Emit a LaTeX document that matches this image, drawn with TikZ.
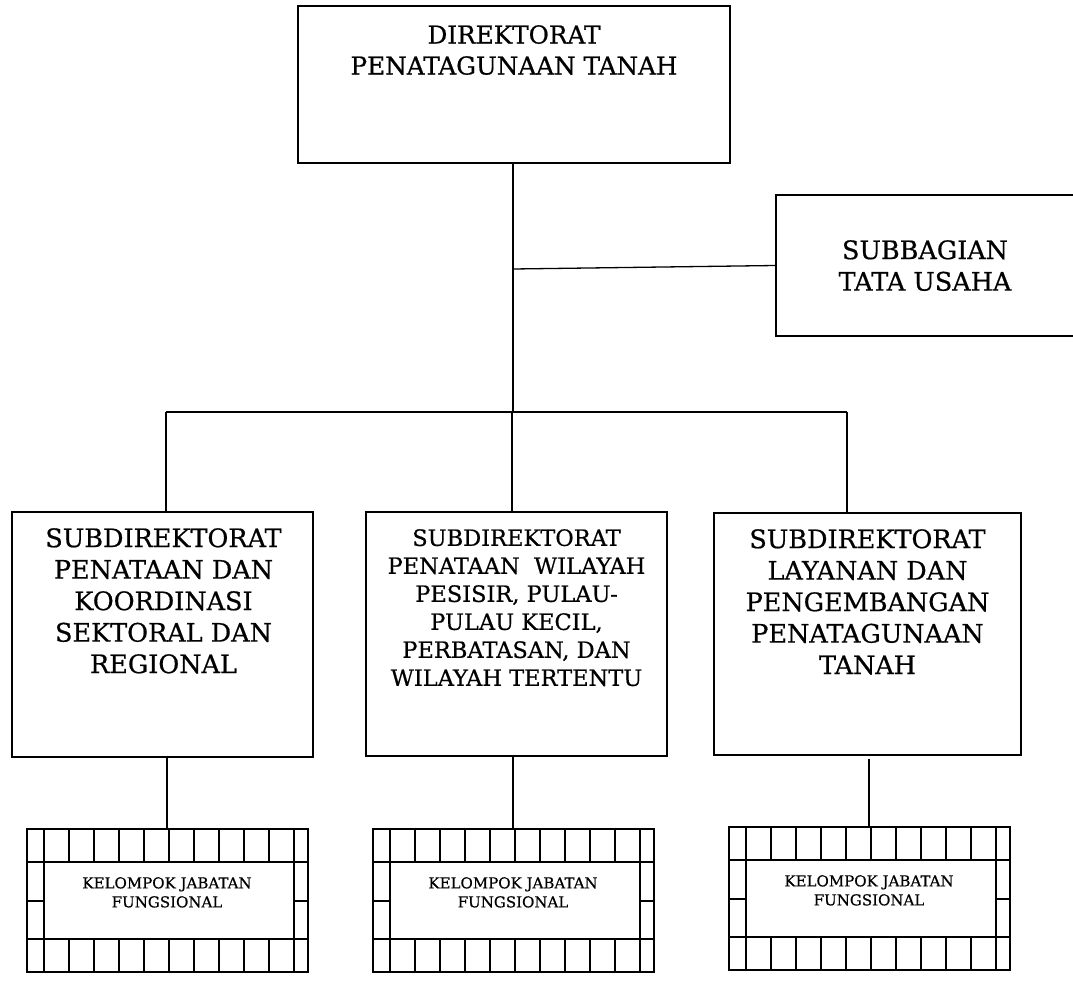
\documentclass[tikz,border=0pt]{standalone}
\usepackage{fontspec}
\setmainfont{DejaVu Serif}[FakeBold=0.6]
\usetikzlibrary{calc}

% frame of small cells round a "kelompok jabatan fungsional" box
% #1 = name, (#2,#3) = top left corner of the frame
\newcommand\fungframe[3]{%
  \begin{scope}[shift={(#2,#3)}]
    \draw[cell] (0,0) rectangle (281,143);
    \draw[cell] (0,33) -- (281,33) (0,110) -- (281,110);
    \foreach \c in {17,42,...,267} {
      \draw[cell] (\c,0) -- (\c,33) (\c,110) -- (\c,143);
    }
    \draw[cell] (0,72) -- (17,72) (267,72) -- (281,72);
    \node[box, minimum width=250, minimum height=77] (#1) at (142,71.5) {};
    \coordinate (#1top) at (140,0);
    \node[smalllbl] (#1text) at (140,48) {KELOMPOK JABATAN\\FUNGSIONAL};
  \end{scope}}

\begin{document}
\begin{tikzpicture}[x=1pt, y=-1pt,
  box/.style={draw, rectangle, line width=1.7pt, inner sep=0pt},
  cell/.style={line width=1.7pt},
  link/.style={line width=1.3pt},
  toplbl/.style={anchor=north, align=center, inner sep=0pt,
    font=\fontsize{24.7}{31}\selectfont},
  biglbl/.style={anchor=north, align=center, inner sep=0pt,
    font=\fontsize{25.5}{31.5}\selectfont},
  midlbl/.style={anchor=north, align=center, inner sep=0pt,
    font=\fontsize{22.5}{28}\selectfont},
  smalllbl/.style={anchor=north, align=center, inner sep=0pt,
    font=\fontsize{15}{19}\selectfont}]
\useasboundingbox (0,0) rectangle (1073,980);
\fill[white] (0,0) rectangle (1073,980);
\clip (0,0) rectangle (1073,980);

% directorate
\node[box, minimum width=432, minimum height=157] (dir) at (514,84.5) {};
\node[toplbl] (dirtext) at (514,25) {DIREKTORAT\\PENATAGUNAAN TANAH};

% administration subsection (runs off the right edge)
\node[box, minimum width=334, minimum height=141] (tu) at (943,265.5) {};
\node[biglbl] (tutext) at (925,240) {SUBBAGIAN\\TATA USAHA};

% sub-directorates
\node[box, minimum width=301, minimum height=245] (sub1) at (162.5,634.5) {};
\node[biglbl] (sub1text) at (163.5,528) {SUBDIREKTORAT\\PENATAAN DAN\\KOORDINASI\\SEKTORAL DAN\\REGIONAL};

\node[box, minimum width=301, minimum height=244] (sub2) at (516.5,634) {};
\node[midlbl] (sub2text) at (516.5,529) {SUBDIREKTORAT\\PENATAAN~~WILAYAH\\PESISIR, PULAU-\\PULAU KECIL,\\PERBATASAN, DAN\\WILAYAH TERTENTU};

\node[box, minimum width=307, minimum height=242] (sub3) at (867.5,634) {};
\node[biglbl] (sub3text) at (867.5,529) {SUBDIREKTORAT\\LAYANAN DAN\\PENGEMBANGAN\\PENATAGUNAAN\\TANAH};

% functional groups
\fungframe{kj1}{27}{829}
\fungframe{kj2}{373}{829}
\fungframe{kj3}{729}{827}

% connectors
\coordinate (trunk) at (513,412);
\coordinate (tujoin) at (513,269);
\coordinate (busL) at (166,412);
\coordinate (busR) at (847,412);
\coordinate (busM) at (512,412);

\draw[link] (dir.south -| trunk) -- (trunk);
\draw[link] (tujoin) -- (tu.west);
\draw[link] (busL) -- (busR);
\draw[link] (busL) -- (sub1.north -| busL);
\draw[link] (busM) -- (sub2.north -| busM);
\draw[link] (busR) -- (sub3.north -| busR);

\draw[link] (sub1.south -| kj1top) -- (kj1top);
\draw[link] (sub2.south -| kj2top) -- (kj2top);
\draw[link, shorten <=3pt] (sub3.south -| kj3top) -- (kj3top);
\end{tikzpicture}
\end{document}
